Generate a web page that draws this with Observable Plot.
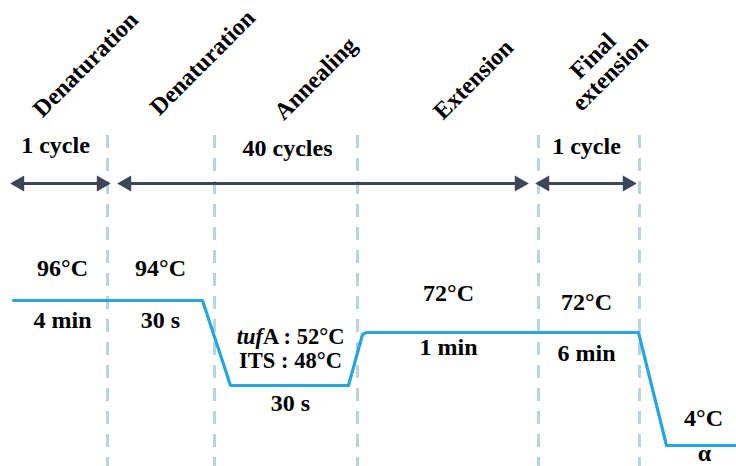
<!DOCTYPE html>
<html>
<head>
<meta charset="utf-8">
<script src="https://cdn.jsdelivr.net/npm/d3@7"></script>
<script src="https://cdn.jsdelivr.net/npm/@observablehq/plot@0.6"></script>
<style>
  html, body { margin: 0; padding: 0; background: #fff; }
</style>
</head>
<body>
<div id="chart"></div>
<script>
// Step boundaries (schematic time axis)
const dividers = [107, 214, 357, 538, 639];
const dividerTop = 135;

// Temperature profile (schematic levels)
const profileX = [13, 202, 230, 348, 362, 366, 638, 666, 736];
const profileY = [300, 300, 385, 385, 334, 332, 332, 445, 445];

// Cycle arrows
const arrowStart = [13, 120, 538];
const arrowEnd = [107, 525, 633];
const arrowY = 183;

// Step names (rotated)
const stepNames = ["Denaturation", "Denaturation", "Annealing", "Extension", "Final\nextension"];
const stepNameX = [85, 202, 315, 473, 601];
const stepNameY = [64, 62, 78, 79, 64];

// Cycle labels
const cycleLabels = ["1 cycle", "40 cycles", "1 cycle"];
const cycleX = [55, 287, 586];
const cycleY = [145, 148, 146];

// Temperature / duration labels
const tempLabels = ["96°C", "94°C", "4 min", "30 s", "30 s", "72°C", "1 min", "72°C", "6 min", "4°C", "α"];
const tempX = [62, 160, 62, 160, 290, 448, 448, 586, 586, 703, 704];
const tempY = [268, 268, 320, 320, 403, 293, 347, 302, 353, 418, 453];

// Annealing temperatures (two primer sets)
const annealLabels = ["tufA : 52°C", "ITS : 48°C"];
const annealX = [290, 290];
const annealY = [336, 360];

const profile = profileX.map((x, i) => ({x, y: profileY[i]}));
const arrows = arrowStart.map((s, i) => ({s, e: arrowEnd[i]}));
const steps = stepNames.map((t, i) => ({t, x: stepNameX[i], y: stepNameY[i]}));
const cycles = cycleLabels.map((t, i) => ({t, x: cycleX[i], y: cycleY[i]}));
const temps = tempLabels.map((t, i) => ({t, x: tempX[i], y: tempY[i]}));
const anneal = annealLabels.map((t, i) => ({t, x: annealX[i], y: annealY[i]}));

const font = "'Liberation Serif', 'Times New Roman', serif";
const arrowColor = "#3b4657";

const plot = Plot.plot({
  width: 736,
  height: 466,
  margin: 0,
  style: {background: "#fff", fontFamily: font},
  x: {domain: [0, 736], range: [0, 736], axis: null},
  y: {domain: [0, 466], range: [0, 466], axis: null},
  marks: [
    Plot.ruleX(dividers, {x: d => d, y1: dividerTop, y2: 466, stroke: "#b9d4de", strokeWidth: 3, strokeDasharray: "13,10"}),
    Plot.line(profile, {x: "x", y: "y", stroke: "#25a6dc", strokeWidth: 3.2, curve: "linear"}),
    Plot.link(arrows, {x1: d => d.s + 6, x2: d => d.e - 6, y1: arrowY, y2: arrowY, stroke: arrowColor, strokeWidth: 3}),
    Plot.dot(arrows, {x: d => d.s + 6, y: arrowY, symbol: "triangle", rotate: -90, r: 6, fill: arrowColor, stroke: null}),
    Plot.dot(arrows, {x: d => d.e - 6, y: arrowY, symbol: "triangle", rotate: 90, r: 6, fill: arrowColor, stroke: null}),
    Plot.text(steps, {x: "x", y: "y", text: "t", rotate: -45, fontSize: 24, fontWeight: "bold", fill: "#000", lineHeight: 1.0, textAnchor: "middle"}),
    Plot.text(cycles, {x: "x", y: "y", text: "t", fontSize: 24, fontWeight: "bold", fill: "#000"}),
    Plot.text(temps, {x: "x", y: "y", text: "t", fontSize: 24, fontWeight: "bold", fill: "#000"}),
    Plot.text(anneal, {x: "x", y: "y", text: "t", fontSize: 22.5, fontWeight: "bold", fill: "#000"})
  ]
});

// Italicise "tuf" in the tufA label
d3.select(plot).selectAll("text").each(function() {
  const el = d3.select(this);
  if (el.text() === "tufA : 52°C") {
    el.text("");
    el.append("tspan").attr("font-style", "italic").text("tuf");
    el.append("tspan").text("A : 52°C");
  }
});

document.getElementById("chart").appendChild(plot);
</script>
</body>
</html>
